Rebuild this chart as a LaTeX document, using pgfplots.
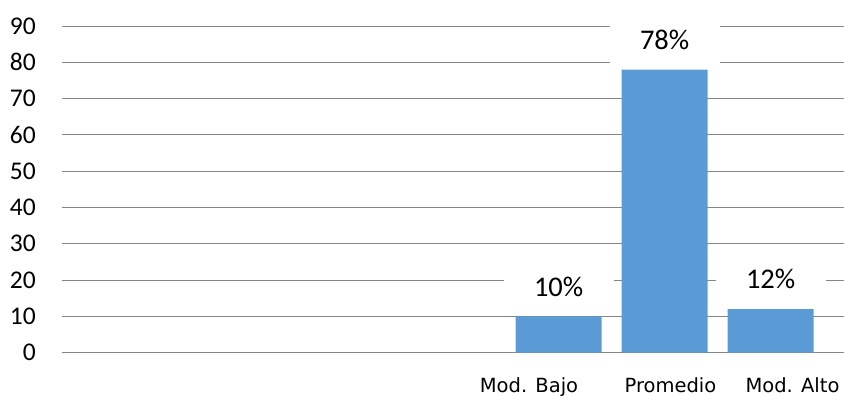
\documentclass[border=0pt]{standalone}
\usepackage{fontspec}
\setmainfont{Carlito}
\newfontfamily\xlabfont{DejaVu Sans}
\usepackage{pgfplots}
\pgfplotsset{compat=1.18}
\definecolor{barblue}{RGB}{91,155,213}
\definecolor{gridgray}{RGB}{134,134,134}
\begin{document}
\begin{tikzpicture}[x=1bp,y=1bp]
\begin{axis}[
  at={(62bp,43.3bp)}, anchor=south west,
  scale only axis,
  width=782bp, height=326.7bp,
  xmin=-3.686, xmax=3.692,
  ymin=0, ymax=90,
  ytick={0,10,...,90},
  xtick={0.72,2.055,3.206},
  xticklabels={Mod. Bajo,Promedio,Mod. Alto},
  axis line style={draw=none},
  tick style={draw=none},
  ymajorgrids,
  grid style={gridgray, line width=1bp},
  /pgf/number format/assume math mode=true,
  yticklabel style={font=\fontsize{25.5bp}{30bp}\selectfont, anchor=east, inner sep=0pt, xshift=-26bp},
  xticklabel style={font=\xlabfont\fontsize{19.5bp}{24bp}\selectfont, anchor=base, inner sep=0pt, yshift=-35.5bp},
  clip=false,
  ybar, bar width=0.811,
  nodes near coords={\pgfmathprintnumber{\pgfplotspointmeta}\%},
  every node near coord/.append style={
    anchor=center, yshift=30bp, fill=white, inner sep=0pt,
    minimum width=110bp, minimum height=55bp,
    font=\fontsize{28.5bp}{32bp}\selectfont, text=black},
]
\addplot[fill=barblue, draw=none] coordinates {(1,10) (2,78) (3,12)};
\end{axis}
\pgfresetboundingbox
\path[use as bounding box] (0,0) rectangle (844bp,396bp);
\end{tikzpicture}
\end{document}
